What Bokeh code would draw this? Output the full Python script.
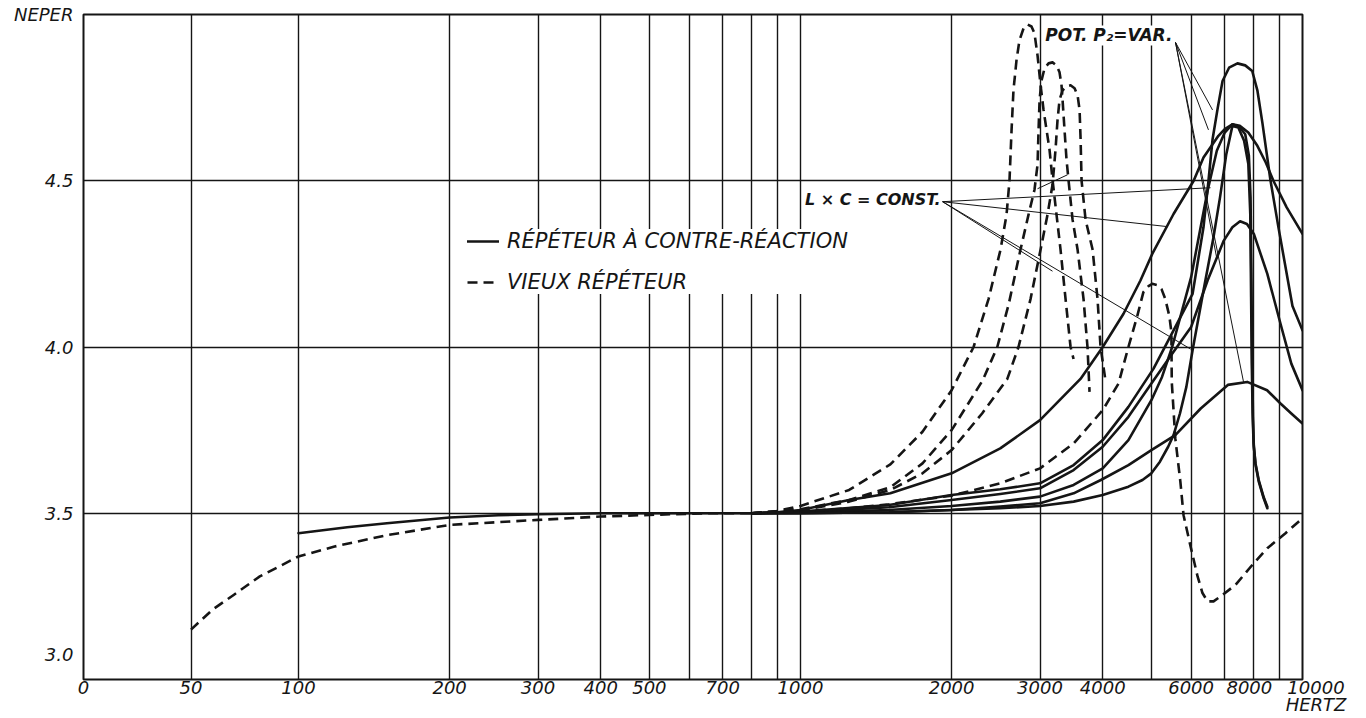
import numpy as np
from bokeh.plotting import figure
from bokeh.models import (Range1d, FixedTicker, CustomJSTickFormatter,
                          Label, Legend, LegendItem)
from bokeh.embed import file_html
from bokeh.resources import INLINE

# ---------------- axis definitions ----------------
x_tick_hz = [0, 50, 100, 200, 300, 400, 500, 700, 1000, 2000, 3000, 4000, 6000, 8000, 10000]
x_tick_labels = ["0", "50", "100", "200", "300", "400", "500", "700", "1000",
                 "2000", "3000", "4000", "6000", "8000", "10000"]
x_unit = "HERTZ"
x_grid_hz = [50, 100, 200, 300, 400, 500, 600, 700, 800, 900, 1000,
             2000, 3000, 4000, 5000, 6000, 7000, 8000, 9000]
y_ticks = [3.0, 3.5, 4.0, 4.5, 5.0]
y_unit = "NEPER"
y_grid = [3.5, 4.0, 4.5]

# ---------------- data (Hz, Neper) ----------------
s_low_hz = [100, 125, 150, 200, 250, 300, 400, 800]
s_low_np = [3.44, 3.458, 3.47, 3.487, 3.494, 3.497, 3.50, 3.50]
d_low_hz = [50, 60, 70, 82, 100, 118, 150, 200, 300, 400, 500, 650, 800]
d_low_np = [3.15, 3.21, 3.255, 3.31, 3.37, 3.40, 3.434, 3.465, 3.48, 3.49, 3.495, 3.50, 3.50]

sA_hz = [800, 900, 1000, 1250, 1510, 2000, 2500, 3000, 3612, 4000, 4400, 4755, 5020, 5535,
         6070, 6350, 6800, 7000, 7250, 7500, 7800, 8130, 8450, 8750, 9300, 10000]
sA_np = [3.50, 3.503, 3.51, 3.54, 3.56, 3.62, 3.695, 3.78, 3.904, 4.0, 4.10, 4.20, 4.28, 4.40,
         4.50, 4.57, 4.635, 4.655, 4.67, 4.665, 4.645, 4.605, 4.555, 4.50, 4.42, 4.34]

sB_hz = [800, 1000, 1500, 2000, 2500, 3000, 3500, 4000, 4500, 5050, 5535, 6040, 6350, 6497,
         6620, 6780, 6930, 7140, 7420, 7690, 7940, 8130, 8320, 8630, 8950, 9550, 10000]
sB_np = [3.50, 3.505, 3.525, 3.555, 3.572, 3.59, 3.645, 3.72, 3.82, 3.935, 4.05, 4.16, 4.36, 4.50,
         4.625, 4.72, 4.80, 4.84, 4.853, 4.847, 4.83, 4.772, 4.674, 4.503, 4.362, 4.123, 4.05]

sC_hz = [800, 1000, 1500, 2000, 2500, 3000, 3500, 4000, 4500, 5000, 5500, 6000, 6470, 6970,
         7250, 7510, 7750, 8000, 8510, 9040, 9500, 10000]
sC_np = [3.50, 3.503, 3.518, 3.54, 3.558, 3.575, 3.63, 3.70, 3.79, 3.89, 3.98, 4.06, 4.20, 4.32,
         4.36, 4.378, 4.37, 4.34, 4.22, 4.07, 3.95, 3.87]

sD_hz = [800, 1000, 1500, 2000, 2500, 3000, 3500, 4000, 4500, 5000, 5250, 5500, 6000, 6470,
         6750, 7000, 7250, 7500, 7690, 7820, 7880, 7910, 7940, 7970, 8000, 8060, 8180, 8370,
         8510]
sD_np = [3.50, 3.502, 3.51, 3.522, 3.535, 3.55, 3.585, 3.635, 3.72, 3.84, 3.91, 4.0, 4.21, 4.47,
         4.59, 4.645, 4.67, 4.66, 4.64, 4.575, 4.45, 4.20, 3.95, 3.78, 3.70, 3.647, 3.596, 3.545,
         3.515]

sE_hz = [800, 1000, 1500, 2000, 2500, 3000, 3500, 3966, 4500, 5000, 5580, 6270, 7100, 7760,
         8500, 9040, 9500, 10000]
sE_np = [3.50, 3.50, 3.503, 3.51, 3.52, 3.53, 3.56, 3.60, 3.645, 3.69, 3.735, 3.815, 3.886, 3.895,
         3.87, 3.83, 3.80, 3.77]

sF_hz = [800, 1000, 1500, 2000, 2500, 3000, 3500, 4000, 4500, 4800, 5000, 5200, 5400, 5535,
         5700, 5870, 6040, 6350, 6648, 6850, 7050, 7250, 7450, 7650, 7800, 7870, 7900, 7925,
         7955, 7990, 8060, 8180, 8370, 8510]
sF_np = [3.50, 3.50, 3.503, 3.51, 3.515, 3.522, 3.535, 3.555, 3.58, 3.60, 3.62, 3.655, 3.70, 3.735,
         3.80, 3.88, 3.99, 4.17, 4.33, 4.45, 4.58, 4.665, 4.66, 4.62, 4.55, 4.40, 4.15, 3.95,
         3.80, 3.71, 3.65, 3.60, 3.548, 3.52]

d1_hz = [800, 900, 1000, 1250, 1510, 1750, 2000, 2212, 2369, 2503, 2573, 2608, 2633, 2656,
         2693, 2730, 2781, 2832, 2885, 2925, 2966, 3008, 3049, 3134, 3177, 3236, 3296, 3373,
         3451, 3499]
d1_np = [3.50, 3.507, 3.522, 3.57, 3.647, 3.745, 3.87, 4.0, 4.144, 4.293, 4.398, 4.50, 4.653,
         4.772, 4.862, 4.922, 4.958, 4.970, 4.964, 4.943, 4.877, 4.787, 4.713, 4.593, 4.503,
         4.398, 4.293, 4.144, 4.0, 3.964]

d2_hz = [800, 1000, 1250, 1510, 1750, 2000, 2307, 2466, 2600, 2743, 2846, 2925, 2966, 2980,
         2994, 3021, 3063, 3120, 3177, 3236, 3281, 3311, 3327, 3357, 3388, 3420, 3483, 3564,
         3663, 3731, 3765]
d2_np = [3.50, 3.512, 3.54, 3.578, 3.65, 3.75, 3.90, 4.0, 4.13, 4.293, 4.398, 4.473, 4.548, 4.653,
         4.743, 4.802, 4.838, 4.853, 4.856, 4.847, 4.826, 4.787, 4.743, 4.653, 4.563, 4.50,
         4.383, 4.293, 4.144, 3.997, 3.865]

d3_hz = [800, 1000, 1250, 1510, 1750, 2000, 2300, 2582, 2718, 2872, 3008, 3105, 3177, 3221,
         3251, 3281, 3327, 3388, 3451, 3515, 3564, 3597, 3614, 3630, 3697, 3818, 3906, 3960,
         4052]
d3_np = [3.50, 3.508, 3.535, 3.57, 3.62, 3.69, 3.80, 3.904, 4.0, 4.144, 4.293, 4.398, 4.488, 4.593,
         4.683, 4.743, 4.772, 4.784, 4.787, 4.778, 4.757, 4.713, 4.623, 4.50, 4.383, 4.293,
         4.144, 4.0, 3.898]

d4_hz = [800, 1000, 1250, 1500, 2000, 2500, 3000, 3500, 4000, 4300, 4500, 4690, 4820, 4935,
         5020, 5143, 5238, 5330, 5430, 5480, 5490, 5580, 5710, 5795, 5985, 6180, 6320, 6470,
         6650, 6870, 7360, 8000, 8510, 9250, 10000]
d4_np = [3.50, 3.505, 3.515, 3.527, 3.553, 3.59, 3.635, 3.71, 3.81, 3.89, 4.0, 4.095, 4.165, 4.183,
         4.19, 4.186, 4.174, 4.144, 4.093, 4.045, 3.895, 3.725, 3.596, 3.494, 3.40, 3.31, 3.26,
         3.235, 3.235, 3.25, 3.285, 3.35, 3.395, 3.44, 3.485]

# annotation leader lines (Hz, Neper)
lc_from = (1919, 4.437)
lc_to_hz = [6557, 5384, 3177, 5983]
lc_to_np = [4.479, 4.362, 4.228, 3.994]
lc_short_hz = [2966, 3404]
lc_short_np = [4.476, 4.518]
p2_from = (5585, 4.916)
p2_to_hz = [6619, 6497, 6745, 7630]
p2_to_np = [4.713, 4.653, 4.269, 3.895]

LIN_SPAN = 0.4283  # decades of paper taken by the linear 0-100 Hz stretch


def xpos(hz):
    hz = np.asarray(hz, dtype=float)
    safe = np.maximum(hz, 1e-9)
    return np.where(hz >= 100, np.log10(safe), 2.0 - LIN_SPAN * (1.0 - hz / 100.0))


INK = "#151515"
FONT = "DejaVu Sans"
EN = "\u2002"

p = figure(width=1360, height=718,
           x_range=Range1d(float(xpos(0)), 4.0), y_range=Range1d(3.0, 5.0),
           output_backend="svg", toolbar_location=None,
           min_border_left=83, min_border_right=58, min_border_top=14, min_border_bottom=36,
           background_fill_color="white", border_fill_color="white")
p.outline_line_color = INK
p.outline_line_width = 2
p.outline_line_alpha = 1

# grids
p.xgrid.ticker = FixedTicker(ticks=[float(v) for v in xpos(x_grid_hz)])
p.ygrid.ticker = FixedTicker(ticks=y_grid)
for g in (p.xgrid, p.ygrid):
    g.grid_line_color = INK
    g.grid_line_width = 1.4
    g.grid_line_alpha = 1

# x axis: tick labels (the last one also carries the unit below it)
tick_pos = [float(v) for v in xpos(x_tick_hz)]
shown = list(x_tick_labels)
shown[-2] = shown[-2] + EN
shown[-1] = EN * 3 + shown[-1] + "\n" + EN * 3 + x_unit
p.xaxis.ticker = FixedTicker(ticks=tick_pos)
p.xaxis.formatter = CustomJSTickFormatter(
    args=dict(pos=tick_pos, lab=shown),
    code="""
    let best = 0, bd = 1e9;
    for (let i = 0; i < pos.length; i++) {
        const d = Math.abs(pos[i] - tick);
        if (d < bd) { bd = d; best = i; }
    }
    return lab[best];
    """)
# y axis: 3.0 sits above the corner, unit name at the top
p.yaxis.ticker = FixedTicker(ticks=y_ticks)
p.yaxis.formatter = CustomJSTickFormatter(
    args=dict(unit=y_unit, lo=y_ticks[0], hi=y_ticks[-1], pad=EN),
    code="""
    if (Math.abs(tick - hi) < 1e-6) { return unit; }
    if (Math.abs(tick - lo) < 1e-6) { return tick.toFixed(1) + "\\n" + pad + "\\n" + pad; }
    return tick.toFixed(1);
    """)
for ax in (p.xaxis, p.yaxis):
    ax.axis_line_color = None
    ax.major_tick_line_color = None
    ax.minor_tick_line_color = None
    ax.major_tick_out = 0
    ax.major_tick_in = 0
    ax.minor_tick_out = 0
    ax.minor_tick_in = 0
    ax.major_label_text_font = FONT
    ax.major_label_text_font_style = "italic"
    ax.major_label_text_font_size = "18px"
    ax.major_label_text_color = INK
p.xaxis.major_label_standoff = -3
p.xaxis.major_label_text_line_height = 0.85
p.yaxis.major_label_standoff = 10

# curves
LW = 2.6
DASH = "10 6"
solid_sets = [(s_low_hz, s_low_np), (sA_hz, sA_np), (sB_hz, sB_np), (sC_hz, sC_np),
              (sD_hz, sD_np), (sE_hz, sE_np), (sF_hz, sF_np)]
dash_sets = [(d_low_hz, d_low_np), (d1_hz, d1_np), (d2_hz, d2_np), (d3_hz, d3_np), (d4_hz, d4_np)]
solid_r = []
for hz, nv in solid_sets:
    solid_r.append(p.line(xpos(hz), nv, line_color=INK, line_width=LW,
                          line_join="round", line_cap="round"))
dash_r = []
for hz, nv in dash_sets:
    dash_r.append(p.line(xpos(hz), nv, line_color=INK, line_width=LW, line_dash=DASH,
                         line_join="round"))

# leader lines
lc_x0 = [float(xpos(lc_from[0]))] * len(lc_to_hz)
lc_y0 = [lc_from[1]] * len(lc_to_hz)
p.segment(lc_x0, lc_y0, xpos(lc_to_hz), lc_to_np, line_color=INK, line_width=1)
p.segment([float(xpos(lc_short_hz[0]))], [lc_short_np[0]],
          [float(xpos(lc_short_hz[1]))], [lc_short_np[1]], line_color=INK, line_width=1)
p2_x0 = [float(xpos(p2_from[0]))] * len(p2_to_hz)
p2_y0 = [p2_from[1]] * len(p2_to_hz)
p.segment(p2_x0, p2_y0, xpos(p2_to_hz), p2_to_np, line_color=INK, line_width=1)

# annotations inside the frame
p.add_layout(Label(x=float(xpos(5508)), y=4.937, text="POT. P\u2082=VAR.",
                   text_align="right", text_baseline="middle",
                   text_font=FONT, text_font_style="bold italic", text_font_size="17px",
                   text_color=INK, background_fill_color="white", background_fill_alpha=1))
p.add_layout(Label(x=float(xpos(1901)), y=4.443, text="L \u00d7 C = CONST.",
                   text_align="right", text_baseline="middle",
                   text_font=FONT, text_font_style="bold italic", text_font_size="16px",
                   text_color=INK, background_fill_color="white", background_fill_alpha=1))

legend = Legend(items=[LegendItem(label="R\u00c9P\u00c9TEUR \u00c0 CONTRE-R\u00c9ACTION",
                                  renderers=[solid_r[1]]),
                       LegendItem(label="VIEUX R\u00c9P\u00c9TEUR", renderers=[dash_r[1]])],
                location=(384, 385), orientation="vertical",
                border_line_color=None, background_fill_color="white", background_fill_alpha=1,
                label_text_font=FONT, label_text_font_style="italic",
                label_text_font_size="21px", label_text_color=INK,
                glyph_width=32, glyph_height=20, label_height=20, label_standoff=8,
                spacing=17, padding=6, margin=0)
p.add_layout(legend)

open("out.html", "w").write(file_html(p, INLINE))
